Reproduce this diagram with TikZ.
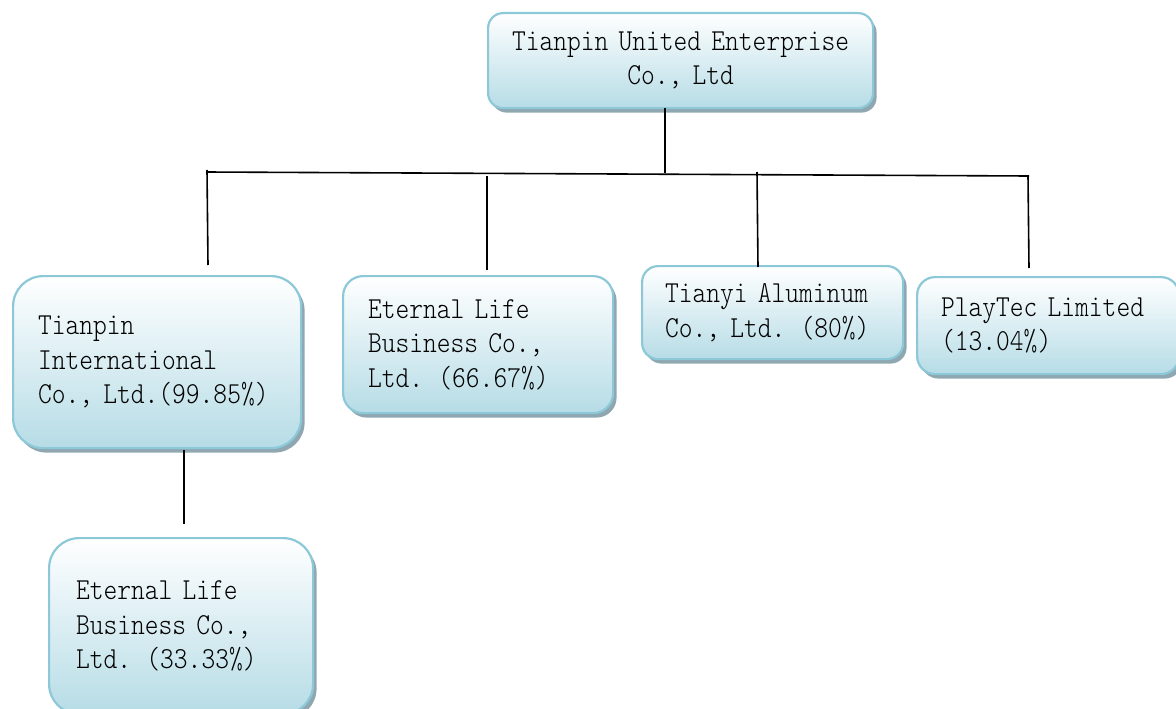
\documentclass[tikz,border=0pt]{standalone}
\usepackage{fontspec}
\newfontfamily\boxfont{lmmonolt10-regular.otf}[FakeStretch=0.86]
\usetikzlibrary{shadows}
\definecolor{boxedge}{HTML}{8CC8D8}
\definecolor{boxlow}{HTML}{B6DCE6}
\definecolor{shadowc}{HTML}{8FA7B0}
\tikzset{
  orgbox/.style={draw=boxedge, line width=2.2pt, top color=white, bottom color=boxlow,
    drop shadow={shadow xshift=3.5pt, shadow yshift=-4.5pt, fill=shadowc, opacity=1},
    anchor=north west, inner xsep=25pt, inner ysep=0pt, align=left,
    font=\boxfont\fontsize{30.5}{34.5}\selectfont},
  link/.style={line width=1.6pt, black}
}
\begin{document}
\begin{tikzpicture}[x=1pt,y=-1pt]
\useasboundingbox (0,0) rectangle (1176,709);
% boxes
\node[orgbox, rounded corners=15pt, minimum width=385pt, minimum height=95pt, align=center, inner xsep=4pt, text width=375pt] (top) at (487,12) {Tianpin United Enterprise\\Co., Ltd};
\node[orgbox, rounded corners=30pt, minimum width=288pt, minimum height=172pt, text width=238pt] (b1) at (12,275) {Tianpin\\International\\Co., Ltd.(99.85\%)};
\node[orgbox, rounded corners=20pt, minimum width=270pt, minimum height=137pt, text width=220pt] (b2) at (342,275) {Eternal Life\\Business Co.,\\Ltd. (66.67\%)};
\node[orgbox, rounded corners=16pt, minimum width=261pt, minimum height=93pt, inner xsep=23pt, text width=215pt] (b3) at (641,265) {Tianyi Aluminum\\Co., Ltd. (80\%)};
\node[orgbox, rounded corners=18pt, minimum width=262pt, minimum height=97pt, inner xsep=24pt, text width=214pt] (b4) at (916,276) {PlayTec Limited\\(13.04\%)};
\node[orgbox, rounded corners=30pt, minimum width=264pt, minimum height=176pt, inner xsep=27pt, text width=210pt] (b5) at (48,537) {Eternal Life\\Business Co.,\\Ltd. (33.33\%)};
% connector coordinates
\coordinate (t0) at (665,108);
\coordinate (t1) at (665,173);
\coordinate (busL) at (206,172);
\coordinate (busR) at (1029,176);
\coordinate (a0) at (207,170);
\coordinate (a1) at (208,265);
\coordinate (c0) at (487,176);
\coordinate (c1) at (487,270);
\coordinate (d0) at (757,172);
\coordinate (d1) at (758,267);
\coordinate (e0) at (1028,176);
\coordinate (e1) at (1029,268);
\coordinate (f0) at (184,450);
\coordinate (f1) at (184,524);
\draw[link] (t0) -- (t1);
\draw[link] (busL) -- (busR);
\draw[link] (a0) -- (a1);
\draw[link] (c0) -- (c1);
\draw[link] (d0) -- (d1);
\draw[link] (e0) -- (e1);
\draw[link] (f0) -- (f1);
\end{tikzpicture}
\end{document}
